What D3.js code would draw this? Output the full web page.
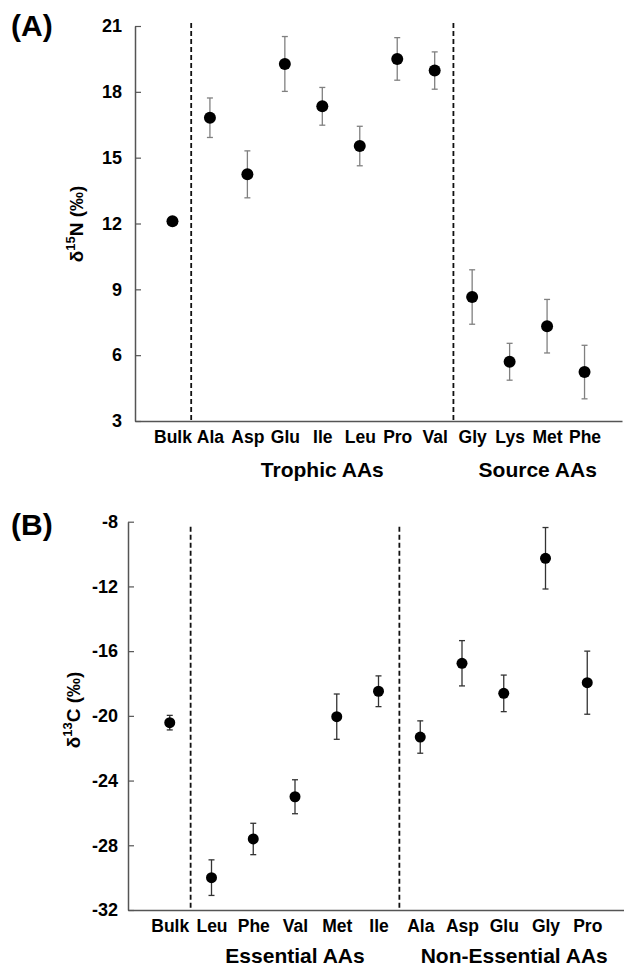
<!DOCTYPE html>
<html>
<head>
<meta charset="utf-8">
<script src="https://cdn.jsdelivr.net/npm/d3@7"></script>
<style>
    body { margin: 0; background: #fff; }
    svg { display: block; font-family: Arial, "Liberation Sans", sans-serif; font-weight: bold; }
</style>
</head>
<body>
<svg id="chart" width="624" height="968"></svg>
<script>
// Panel A - nitrogen
var catsA = ["Bulk", "Ala", "Asp", "Glu", "Ile", "Leu", "Pro", "Val", "Gly", "Lys", "Met", "Phe"];
var meanA = [12.1, 16.82, 14.24, 19.27, 17.34, 15.53, 19.5, 18.97, 8.65, 5.7, 7.32, 5.23];
var errA = [0.1, 0.9, 1.07, 1.25, 0.86, 0.9, 0.97, 0.85, 1.24, 0.84, 1.22, 1.22];
var ticksA = [3, 6, 9, 12, 15, 18, 21];
var splitA = ["Bulk", "Val"];            // dashed line after these
var groupsA = ["Trophic AAs", "Source AAs"];

// Panel B - carbon
var catsB = ["Bulk", "Leu", "Phe", "Val", "Met", "Ile", "Ala", "Asp", "Glu", "Gly", "Pro"];
var meanB = [-20.42, -30.0, -27.61, -25.0, -20.05, -18.48, -21.31, -16.75, -18.61, -10.26, -17.95];
var errB = [0.45, 1.1, 0.97, 1.05, 1.4, 0.95, 1.0, 1.4, 1.13, 1.9, 1.95];
var ticksB = [-32, -28, -24, -20, -16, -12, -8];
var splitB = ["Bulk", "Ile"];
var groupsB = ["Essential AAs", "Non-Essential AAs"];

var svg = d3.select("#chart");

function drawPanel(o) {
    var g = svg.append("g");

    var x = d3.scalePoint().domain(o.cats).range(o.xRange).padding(1);
    var y = d3.scaleLinear().domain(d3.extent(o.ticks)).range(o.yRange);

    var data = o.cats.map(function (c, i) { return { cat: c, v: o.means[i], e: o.errs[i] }; });

    // y axis, ticks pointing inward, plain hyphen for negatives
    var yAxis = d3.axisLeft(y).tickValues(o.ticks)
        .tickFormat(function (d) { return String(d); })
        .tickSizeInner(-6).tickSizeOuter(0).tickPadding(o.tickPad);
    var yAxisEl = g.append("g")
        .attr("transform", "translate(" + o.xRange[0] + ",0)")
        .call(yAxis);
    yAxisEl.selectAll("text").attr("font-size", 18).attr("font-weight", "bold").attr("font-family", "Arial, 'Liberation Sans', sans-serif").attr("fill", "#000");

    // x axis
    var xAxis = d3.axisBottom(x).tickSize(0).tickPadding(10);
    var xAxisEl = g.append("g")
        .attr("transform", "translate(0," + o.yRange[0] + ")")
        .call(xAxis);
    xAxisEl.selectAll("text").attr("font-size", 17.5).attr("font-weight", "bold").attr("font-family", "Arial, 'Liberation Sans', sans-serif").attr("fill", "#000");

    g.selectAll(".domain").attr("stroke", "#555").attr("stroke-width", 1.5);
    g.selectAll(".tick line").attr("stroke", "#555").attr("stroke-width", 1.2);

    // dashed dividers
    var step = x.step();
    var divX = o.split.map(function (c) { return x(c) + step / 2; });
    g.selectAll(".divider")
        .data(divX)
        .enter()
        .append("line")
        .attr("x1", function (d) { return d; })
        .attr("x2", function (d) { return d; })
        .attr("y1", o.yRange[1] + o.divTop)
        .attr("y2", o.yRange[0])
        .attr("stroke", "#111")
        .attr("stroke-width", 1.8)
        .attr("stroke-dasharray", "5,3");

    // group labels, centred between dividers
    var bounds = divX.slice(1).concat([o.xRange[1]]);
    g.selectAll(".grp")
        .data(o.groups)
        .enter()
        .append("text")
        .attr("x", function (d, i) { return (divX[i] + bounds[i]) / 2; })
        .attr("y", o.groupY)
        .attr("text-anchor", "middle")
        .attr("font-size", 21)
        .text(function (d) { return d; });

    // error bars
    var eb = g.selectAll(".eb").data(data).enter().append("g")
        .attr("stroke", o.errColor).attr("stroke-width", 1.3);
    eb.append("line")
        .attr("x1", function (d) { return x(d.cat); })
        .attr("x2", function (d) { return x(d.cat); })
        .attr("y1", function (d) { return y(d.v + d.e); })
        .attr("y2", function (d) { return y(d.v - d.e); });
    eb.append("line")
        .attr("x1", function (d) { return x(d.cat) - 3; })
        .attr("x2", function (d) { return x(d.cat) + 3; })
        .attr("y1", function (d) { return y(d.v + d.e); })
        .attr("y2", function (d) { return y(d.v + d.e); });
    eb.append("line")
        .attr("x1", function (d) { return x(d.cat) - 3; })
        .attr("x2", function (d) { return x(d.cat) + 3; })
        .attr("y1", function (d) { return y(d.v - d.e); })
        .attr("y2", function (d) { return y(d.v - d.e); });

    // points
    g.selectAll(".pt")
        .data(data)
        .enter()
        .append("circle")
        .attr("cx", function (d) { return x(d.cat); })
        .attr("cy", function (d) { return y(d.v); })
        .attr("r", o.r)
        .attr("fill", "#000");

    // y label
    var lab = g.append("text")
        .attr("transform", "translate(" + o.labelX + "," + o.labelY + ") rotate(-90)")
        .attr("text-anchor", "middle")
        .attr("font-size", 19);
    lab.append("tspan").text("\u03b4");
    lab.append("tspan").attr("font-size", 13).attr("dy", -8).text(o.iso);
    lab.append("tspan").attr("dy", 8).text(o.elem + " (\u2030)");

    // panel tag
    g.append("text")
        .attr("x", 11)
        .attr("y", o.tagY)
        .attr("font-size", 30)
        .text(o.tag);
}

drawPanel({
    cats: catsA, means: meanA, errs: errA, ticks: ticksA,
    xRange: [135, 622], yRange: [421, 26], divTop: -3,
    split: splitA, groups: groupsA, groupY: 477,
    tickPad: 13, errColor: "#808080", r: 6,
    iso: "15", elem: "N", labelX: 83, labelY: 224,
    tag: "(A)", tagY: 36
});

drawPanel({
    cats: catsB, means: meanB, errs: errB, ticks: ticksB,
    xRange: [128, 629], yRange: [910, 521.7], divTop: 5,
    split: splitB, groups: groupsB, groupY: 963,
    tickPad: 10, errColor: "#333", r: 5.5,
    iso: "13", elem: "C", labelX: 80, labelY: 710,
    tag: "(B)", tagY: 535
});
</script>
</body>
</html>
